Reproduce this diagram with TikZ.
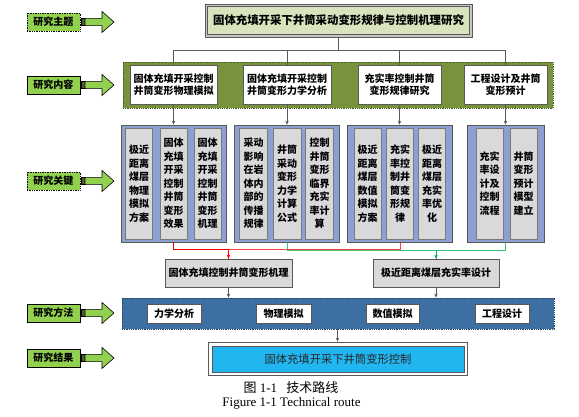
\documentclass[tikz,border=0pt]{standalone}
\usepackage{fontspec}
\setmainfont{Liberation Serif}
\newfontfamily\cjk{Noto Sans CJK SC}
\usetikzlibrary{arrows.meta}
\definecolor{lgreen}{HTML}{92D050}
\definecolor{dgreen}{HTML}{4F6228}
\definecolor{titlefill}{HTML}{D7E4BD}
\definecolor{olivebg}{HTML}{77933C}
\definecolor{periw}{HTML}{8EA0D2}
\definecolor{colgray}{HTML}{D9D9D9}
\definecolor{steel}{HTML}{3E6FA3}
\definecolor{cyanres}{HTML}{22B6F0}
\definecolor{edge}{HTML}{595959}
\definecolor{redln}{HTML}{FF0000}
\definecolor{greenln}{HTML}{00B050}
\tikzset{
  sidearrow/.pic={
    \filldraw[fill=dgreen,draw=black,line width=0.6pt] (81,-3.6) rectangle (85,3.6);
    \filldraw[fill=lgreen,draw=black,line width=0.6pt] (85,-3.6) -- (102,-3.6) -- (102,-10.5) -- (114,0) -- (102,10.5) -- (102,3.6) -- (85,3.6) -- cycle;
  },
  lbl/.style={draw=black, line width=0.7pt, fill=lgreen, minimum width=53pt, minimum height=18pt, inner sep=0pt, font=\cjk\bfseries\fontsize{10}{12}\selectfont},
  lbldot/.style={lbl, densely dotted},
  cbox/.style={draw=edge, line width=0.7pt, fill=white, minimum height=39pt, inner sep=0pt, align=center, font=\cjk\bfseries\fontsize{10}{12.5}\selectfont},
  kgroup/.style={draw=edge, line width=0.7pt, fill=periw, minimum height=117pt, inner sep=0pt},
  kcol/.style={draw=edge!80, line width=0.6pt, fill=colgray, minimum width=27pt, minimum height=111pt, inner sep=0pt, text width=22pt, align=center, font=\cjk\bfseries\fontsize{10}{13.5}\selectfont},
  mbox/.style={draw=edge, line width=0.8pt, fill=colgray, minimum height=28pt, inner sep=0pt, font=\cjk\bfseries\fontsize{10}{12}\selectfont},
  methbox/.style={draw=edge, line width=0.7pt, fill=white, minimum height=19pt, inner sep=0pt, font=\cjk\bfseries\fontsize{10}{12}\selectfont},
  conn/.style={draw=edge, line width=0.7pt},
  tip/.style={-{Stealth[length=4pt,width=3.5pt]}}
}
\begin{document}
\begin{tikzpicture}[x=1pt,y=-1pt]
\useasboundingbox (0,0) rectangle (579,417);
\fill[white] (0,0) rectangle (579,417);

% left labels
\node[lbldot] (l1) at (53.5,22) {研究主题};
\node[lbl] (l2) at (53.5,85) {研究内容};
\node[lbldot] (l3) at (53.5,181) {研究关键};
\node[lbl] (l4) at (53.5,313) {研究方法};
\node[lbl] (l5) at (53.5,358) {研究结果};
\pic at (0,22) {sidearrow};
\pic at (0,85) {sidearrow};
\pic at (0,181) {sidearrow};
\pic at (0,313) {sidearrow};
\pic at (0,358) {sidearrow};

% title
\node[draw=edge, line width=0.8pt, fill=gray!45, minimum width=267pt, minimum height=33pt, inner sep=0pt] (titleo) at (338.5,20.5) {};
\node[draw=edge, line width=0.6pt, fill=titlefill, minimum width=262pt, minimum height=28pt, inner sep=0pt, font=\cjk\bfseries\fontsize{11.4}{13}\selectfont] (title) at (338.5,20.5) {固体充填开采下井筒采动变形规律与控制机理研究};

% content band
\node[fill=olivebg, draw=olivebg!60!black, densely dotted, line width=0.8pt, minimum width=430pt, minimum height=46pt, inner sep=0pt] (cband) at (338,85) {};
\node[cbox, minimum width=87pt] (c1) at (173.5,84.5) {固体充填开采控制\\井筒变形物理模拟};
\node[cbox, minimum width=88pt] (c2) at (287,84.5) {固体充填开采控制\\井筒变形力学分析};
\node[cbox, minimum width=83pt] (c3) at (399.5,84.5) {充实率控制井筒\\变形规律研究};
\node[cbox, minimum width=83pt] (c4) at (505.5,84.5) {工程设计及井筒\\变形预计};

\draw[conn] (titleo.south) -- ++(0,12.5) coordinate (tj);
\draw[conn] (tj) -| (c1.north);
\draw[conn] (tj) -| (c2.north);
\draw[conn] (tj) -| (c3.north);
\draw[conn] (tj) -| (c4.north);

% key groups
\node[kgroup, minimum width=105pt] (k1) at (173.5,183.5) {};
\node[kgroup, minimum width=105pt] (k2) at (286.5,183.5) {};
\node[kgroup, minimum width=105pt] (k3) at (399.5,183.5) {};
\node[kgroup, minimum width=77pt] (k4) at (505.5,183.5) {};

\node[kcol] (k1a) at (139,183.5) {极近\\距离\\煤层\\物理\\模拟\\方案};
\node[kcol] (k1b) at (173.5,183.5) {固体\\充填\\开采\\控制\\井筒\\变形\\效果};
\node[kcol] (k1c) at (207.5,183.5) {固体\\充填\\开采\\控制\\井筒\\变形\\机理};
\node[kcol, minimum width=28pt] (k2a) at (253.5,183.5) {采动\\影响\\在岩\\体内\\部的\\传播\\规律};
\node[kcol, minimum width=28pt] (k2b) at (287,183.5) {井筒\\采动\\变形\\力学\\计算\\公式};
\node[kcol, minimum width=28pt] (k2c) at (319.5,183.5) {控制\\井筒\\变形\\临界\\充实\\率计\\算};
\node[kcol] (k3a) at (367.5,183.5) {极近\\距离\\煤层\\数值\\模拟\\方案};
\node[kcol] (k3b) at (400,183.5) {充实\\率控\\制井\\筒变\\形规\\律};
\node[kcol] (k3c) at (432,183.5) {极近\\距离\\煤层\\充实\\率优\\化};
\node[kcol] (k4a) at (489.5,183.5) {充实\\率设\\计及\\控制\\流程};
\node[kcol] (k4b) at (523.5,183.5) {井筒\\变形\\预计\\模型\\建立};

\draw[conn, tip] (c1.south) -- (k1.north);
\draw[conn, tip] (c2.south) -- (k2.north -| c2.south);
\draw[conn, tip] (c3.south) -- (k3.north);
\draw[conn, tip] (c4.south) -- (k4.north);

% mechanism boxes
\node[mbox, minimum width=127pt] (m1) at (228.5,273) {固体充填控制井筒变形机理};
\node[mbox, minimum width=126pt] (m2) at (436,273) {极近距离煤层充实率设计};

\draw[redln, line width=1pt] (k1.south) -- ++(0,7) -| (m1.north);
\draw[redln, line width=1pt, opacity=0.75] (k3.south -| k3b) -- ++(0,7) -| (m1.north);
\draw[redln, line width=1pt, tip] (m1.north) ++(0,-4) -- (m1.north);
\draw[greenln, line width=1pt, opacity=0.75] (k2.south -| k2b) -- ++(0,8) -| (m2.north);
\draw[greenln, line width=1pt, opacity=0.75] (k4.south) -- ++(0,8) -| (m2.north);
\draw[greenln, line width=1pt, tip] (m2.north) ++(0,-4) -- (m2.north);

% methods band
\node[fill=steel, draw=steel!60!black, densely dotted, line width=0.8pt, minimum width=432pt, minimum height=31pt, inner sep=0pt] (band) at (338,313.5) {};
\node[methbox, minimum width=54pt] (mm1) at (174,313.5) {力学分析};
\node[methbox, minimum width=55pt] (mm2) at (283.5,313.5) {物理模拟};
\node[methbox, minimum width=53pt] (mm3) at (392.5,313.5) {数值模拟};
\node[methbox, minimum width=54pt] (mm4) at (502,313.5) {工程设计};

\draw[conn, tip] (m1.south) -- (m1.south |- band.north);
\draw[conn, tip] (m2.south) -- (m2.south |- band.north);

% result
\node[draw=edge, line width=0.8pt, fill=white, minimum width=259pt, minimum height=33pt, inner sep=0pt] (resout) at (337.5,358.5) {};
\node[draw=edge, line width=0.7pt, fill=cyanres, minimum width=252pt, minimum height=26pt, inner sep=0pt, text=black!85, font=\cjk\fontsize{11.3}{13}\selectfont] (res) at (338,359) {固体充填开采下井筒变形控制};
\draw[conn, tip] (band.south -| resout.north) -- (resout.north);

% caption
\node[font=\fontsize{13}{15}\selectfont, inner sep=0pt] (cap1) at (291,387.5) {{\cjk 图}~1-1\hspace{0.7em}{\cjk 技术路线}};
\node[font=\fontsize{13}{15}\selectfont, inner sep=0pt] (cap2) at (291.5,403.5) {Figure 1-1 Technical route};
\end{tikzpicture}
\end{document}
